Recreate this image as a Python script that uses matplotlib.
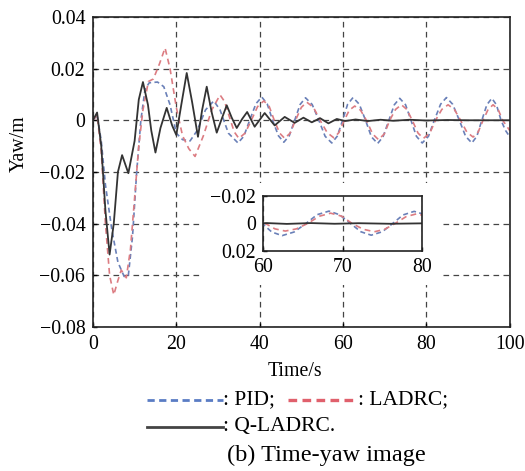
import matplotlib.pyplot as plt
from matplotlib.lines import Line2D
from matplotlib.patches import Rectangle
from matplotlib.ticker import FuncFormatter

plt.rcParams['font.family'] = ['Liberation Serif', 'DejaVu Serif']
plt.rcParams['font.size'] = 14.3

# --- data (time in s, yaw in m) ---
t_pid = [0, 1, 2, 3, 4.5, 6, 7.5, 8.5, 9.5, 10.5, 11.5, 12.5, 13.5, 15.5, 17,
         18.5, 20, 21.5, 23.3, 25, 27, 29, 30.5, 32.5, 34.8, 36.2, 37.6, 39.1,
         40.5, 41.8, 43.1, 44.5, 45.8, 47.1, 48.4, 49.7, 51, 52.6, 54.2, 55.7,
         57.3, 58.6, 59.9, 61.1, 62.4, 63.9, 65.4, 66.8, 68.3, 69.6, 71, 72.3,
         73.6, 75, 76.3, 77.6, 79, 80.5, 81.9, 83.4, 84.8, 86.3, 87.9, 89.4,
         90.9, 92.1, 93.3, 94.5, 95.7, 96.8, 97.9, 99, 100]
y_pid = [0, 0.002, -0.008, -0.025, -0.042, -0.055, -0.0605, -0.06, -0.045,
         -0.02, 0.0, 0.012, 0.0145, 0.0148, 0.013, 0.006, -0.005, -0.0075,
         -0.008, -0.004, 0.004, 0.0075, 0.004, -0.005, -0.0088, -0.0062, 0.0,
         0.0064, 0.009, 0.0064, 0.0, -0.006, -0.0085, -0.006, 0.0, 0.0061,
         0.0087, 0.0061, 0.0, -0.0062, -0.0088, -0.0062, 0.0, 0.0062, 0.0088,
         0.0062, 0.0, -0.0064, -0.009, -0.0064, 0.0, 0.006, 0.0085, 0.006, 0.0,
         -0.0062, -0.0088, -0.0062, 0.0, 0.0062, 0.0088, 0.0062, 0.0, -0.0062,
         -0.0088, -0.0062, 0.0, 0.006, 0.0085, 0.006, 0.0, -0.004, -0.0064]

t_ladrc = [0, 1, 2, 3, 4, 5, 6, 6.8, 8, 9, 10, 11, 12, 13.3, 14.5, 16, 17.3,
           18.5, 20, 21.5, 23, 24.5, 26.5, 28.5, 30.5, 31.6, 32.7, 33.9, 35,
           36.5, 38, 39.5, 41, 42.3, 43.5, 44.8, 46, 47.3, 48.6, 50, 51.3,
           52.9, 54.5, 56.2, 57.8, 59, 60.3, 61.5, 62.8, 64.2, 65.6, 67.1,
           68.5, 69.9, 71.2, 72.6, 74, 75.3, 76.6, 78, 79.3, 80.8, 82.2, 83.7,
           85.2, 86.7, 88.2, 89.7, 91.2, 92.4, 93.6, 94.8, 96, 97.2, 98.3, 100]
y_ladrc = [0, 0.002, -0.012, -0.04, -0.06, -0.0676, -0.062, -0.058, -0.061,
           -0.05, -0.03, -0.01, 0.004, 0.015, 0.016, 0.022, 0.028, 0.02, 0.005,
           -0.006, -0.011, -0.014, -0.006, 0.004, 0.0098, 0.0072, 0.0015,
           -0.0045, -0.007, -0.005, 0.0, 0.0053, 0.0075, 0.0053, 0.0, -0.005,
           -0.007, -0.005, 0.0, 0.005, 0.007, 0.005, 0.0, -0.0048, -0.0068,
           -0.0048, 0.0, 0.0039, 0.0055, 0.0039, 0.0, -0.0053, -0.0075, -0.0053,
           0.0, 0.0042, 0.006, 0.0042, 0.0, -0.005, -0.007, -0.005, 0.0, 0.0042,
           0.006, 0.0042, 0.0, -0.0046, -0.0065, -0.0046, 0.0, 0.0042, 0.006,
           0.0042, 0.0, -0.004]

t_qladrc = [0, 1, 2, 3, 4, 5, 6, 7, 8.5, 10, 11, 12, 13.2, 14, 15, 16.2, 17.7,
            19, 20, 21.2, 22.5, 23.8, 25.2, 26.2, 27.3, 28.5, 29.7, 31, 32.1,
            33.3, 34.5, 35.8, 37, 38.8, 41.2, 43.6, 46, 48.4, 50.5, 52.5, 54.5,
            56.5, 58.5, 60.5, 63, 66, 69, 72, 76, 80, 85, 90, 95, 100]
y_qladrc = [0, 0.003, -0.01, -0.035, -0.052, -0.04, -0.02, -0.0135, -0.0205,
            -0.008, 0.008, 0.0148, 0.006, -0.004, -0.0125, -0.003, 0.0048,
            -0.002, -0.0057, 0.006, 0.0183, 0.007, -0.0064, 0.004, 0.013, 0.003,
            -0.0048, 0.001, 0.0058, 0.001, -0.003, 0.0005, 0.0032, -0.0025,
            0.0028, -0.002, 0.0013, -0.001, 0.001, -0.0008, 0.0008, -0.0012,
            0.0005, -0.0003, 0.0003, -0.0003, 0.0002, -0.0002, 0.0002, -0.0001,
            0.0001, 0, 0, 0]

c_pid = '#6a80b8'
c_ladrc = '#dc7c82'
c_q = '#333333'


def fmt(v, pos):
    s = f'{v:g}'
    return s.replace('-', '\u2212')


def draw_curves(ax):
    ax.plot(t_pid, y_pid, color=c_pid, lw=1.2, dashes=(3, 2))
    ax.plot(t_ladrc, y_ladrc, color=c_ladrc, lw=1.2, dashes=(3.5, 2.5))
    ax.plot(t_qladrc, y_qladrc, color=c_q, lw=1.3)


fig = plt.figure(figsize=(5.25, 4.71), dpi=100)
ax = fig.add_axes([0.177, 0.306, 0.794, 0.658])
draw_curves(ax)
ax.set_xlim(0, 100)
ax.set_ylim(-0.08, 0.04)
ax.set_xticks([0, 20, 40, 60, 80, 100])
ax.set_yticks([-0.08, -0.06, -0.04, -0.02, 0, 0.02, 0.04])
ax.yaxis.set_major_formatter(FuncFormatter(fmt))
ax.tick_params(direction='in', length=3, width=1, pad=5.5)
ax.grid(True, color='#444444', lw=0.9, dashes=(4.5, 3.5))
ax.set_xlabel('Time/s')
ax.set_ylabel('Yaw/m')
ax.xaxis.set_label_coords(0.484, -0.112)
ax.yaxis.set_label_coords(-0.153, 0.59)
for sp in ax.spines.values():
    sp.set_linewidth(1.2)
    sp.set_color('#222222')

# white area behind the inset and its labels
ax.add_patch(Rectangle((25.7, -0.0637), 58.3, 0.0395, facecolor='white',
                       edgecolor='none', zorder=1.6))

# inset: 60-80 s, reversed y axis
axi = fig.add_axes([0.501, 0.467, 0.303, 0.117])
draw_curves(axi)
axi.set_xlim(60, 80)
axi.set_ylim(0.02, -0.02)
axi.set_xticks([60, 70, 80])
axi.set_yticks([-0.02, 0, 0.02])
axi.yaxis.set_major_formatter(FuncFormatter(fmt))
axi.tick_params(direction='in', length=3, width=1, pad=5)
axi.xaxis.grid(True, color='#444444', lw=0.9, dashes=(4.5, 3.5))
for sp in axi.spines.values():
    sp.set_linewidth(1.2)
    sp.set_color('#222222')

# legend drawn below the axes
W, H = 525, 471


def fx(px):
    return px / W


def fy(py):
    return 1 - py / H


fig.add_artist(Line2D([fx(147), fx(223)], [fy(400), fy(400)], color='#5a7cc4',
                      lw=2, dashes=(2.6, 1.6), transform=fig.transFigure))
fig.text(fx(223), fy(400), ': PID;', va='center', ha='left', fontsize=15.5)
fig.add_artist(Line2D([fx(288), fx(358)], [fy(400), fy(400)], color='#e0606c',
                      lw=2.4, dashes=(2.6, 1.6), transform=fig.transFigure))
fig.text(fx(358), fy(400), ': LADRC;', va='center', ha='left', fontsize=15.5)
fig.add_artist(Line2D([fx(147), fx(223)], [fy(427), fy(427)], color='#444444',
                      lw=2, transform=fig.transFigure))
fig.text(fx(223), fy(427), ': Q-LADRC.', va='center', ha='left', fontsize=15.5)
fig.text(fx(326), fy(455), '(b) Time-yaw image', va='center', ha='center',
         fontsize=17.5)

fig.savefig('out.png', dpi=100)
